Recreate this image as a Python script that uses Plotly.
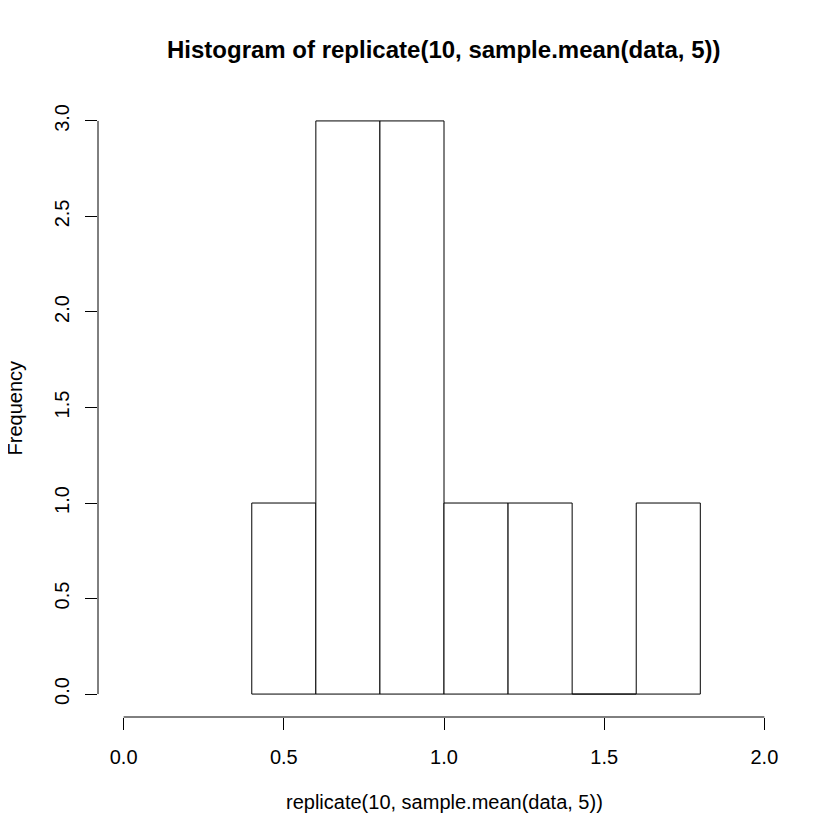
import plotly.graph_objects as go

# histogram bins (left edges) and counts, bin width 0.2
bin_left = [0.4, 0.6, 0.8, 1.0, 1.2, 1.4, 1.6]
counts = [1, 3, 3, 1, 1, 0, 1]
bin_width = 0.2

x_ticks = [0.0, 0.5, 1.0, 1.5, 2.0]
y_ticks = [0.0, 0.5, 1.0, 1.5, 2.0, 2.5, 3.0]

mids = [b + bin_width / 2 for b in bin_left]

fig = go.Figure()
fig.add_trace(go.Bar(x=mids, y=counts, width=bin_width,
                     marker=dict(color="white", line=dict(color="black", width=1)),
                     hoverinfo="skip"))

font = "Liberation Sans, Arial, sans-serif"
# the page body has an 8px margin, so the margins are shifted by 8px
fig.update_layout(
    width=840, height=840,
    margin=dict(l=90, r=58, t=90, b=131),
    plot_bgcolor="white", paper_bgcolor="white",
    showlegend=False,
    font=dict(family=font, size=20, color="black"),
    xaxis=dict(range=[-0.08, 2.08], tickvals=x_ticks, ticktext=["%.1f" % v for v in x_ticks],
               showgrid=False, zeroline=False, showline=False,
               ticks="outside", ticklen=12, tickcolor="black", tickwidth=1,
               ticklabelstandoff=10),
    yaxis=dict(range=[-0.12, 3.12], tickvals=y_ticks, ticktext=["%.1f" % v for v in y_ticks],
               showgrid=False, zeroline=False, showline=False, tickangle=-90,
               ticks="outside", ticklen=12, tickcolor="black", tickwidth=1,
               ticklabelstandoff=8),
)

# R style axis lines that only span the tick range
fig.add_shape(type="line", xref="x", yref="paper", x0=0, x1=2, y0=0, y1=0,
              line=dict(color="black", width=1))
fig.add_shape(type="line", xref="paper", yref="y", x0=0, x1=0, y0=0, y1=3,
              line=dict(color="black", width=1))

fig.add_annotation(text="<b>Histogram of replicate(10, sample.mean(data, 5))</b>",
                   xref="paper", yref="paper", x=0.5, y=1.0776, showarrow=False,
                   font=dict(size=24), xanchor="center", yanchor="middle")
fig.add_annotation(text="replicate(10, sample.mean(data, 5))",
                   xref="paper", yref="paper", x=0.5, y=-0.137, showarrow=False,
                   xanchor="center", yanchor="middle")
fig.add_annotation(text="Frequency", textangle=-90,
                   xref="paper", yref="paper", x=-0.12, y=0.5, showarrow=False,
                   xanchor="center", yanchor="middle")

fig.write_html("out.html")
